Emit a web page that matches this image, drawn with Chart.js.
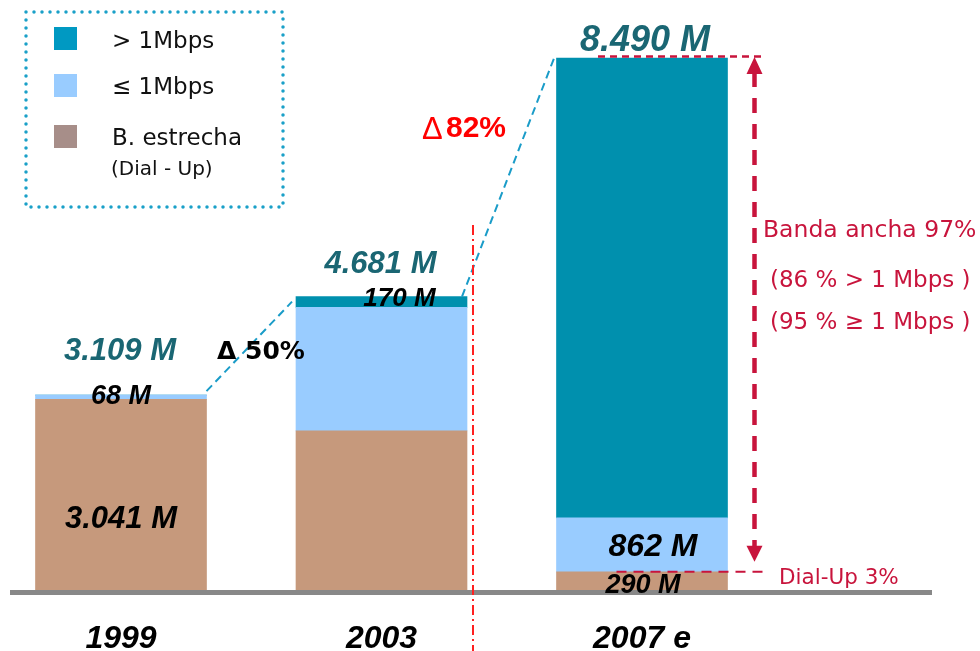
<!DOCTYPE html>
<html>
<head>
<meta charset="utf-8">
<script src="https://cdn.jsdelivr.net/npm/chart.js@4"></script>
<style>
html, body { margin: 0; padding: 0; background: #fff; }
#wrap { width: 980px; height: 651px; }
</style>
</head>
<body>
<div id="wrap"><canvas id="chart" width="980" height="651"></canvas></div>
<script>
// data (thousands of lines)
const years = ['1999', '2003', '2007 e'];
const seriesNames = ['> 1Mbps', '≤ 1Mbps', 'B. estrecha'];
const dialUp = [3041, 2540, 290];
const upTo1Mbps = [68, 1971, 862];
const over1Mbps = [0, 170, 7338];

const totalLabels = ['3.109 M', '4.681 M', '8.490 M'];
const dialUpLabels = ['3.041 M', '', '290 M'];
const upTo1Labels = ['68 M', '', '862 M'];
const over1Labels = ['', '170 M', ''];
const growthLabels = ['Δ 50%', '82%'];
const bandaNotes = ['Banda ancha 97%', '(86 % > 1 Mbps )', '(95 % ≥ 1 Mbps )'];
const dialUpNote = 'Dial-Up 3%';
const dialUpSub = '(Dial - Up)';

const COLORS = {
    over: '#0090AE',
    upTo: '#99CCFF',
    dial: '#C6997C',
    total: '#1A6673',
    crimson: '#C8143C',
    teal: '#1A9CC8'
};
const legendColors = ['#0099C2', '#99CCFF', '#A78E89'];

const BOLD_IT = 'italic bold {s}px "Liberation Sans", Arial, sans-serif';
const PLAIN = '{s}px "DejaVu Sans", sans-serif';
const f = (tpl, s) => tpl.replace('{s}', s);

function text(ctx, str, x, y, font, color, align) {
    ctx.font = font;
    ctx.fillStyle = color;
    ctx.textAlign = align || 'center';
    ctx.textBaseline = 'middle';
    ctx.fillText(str, x, y);
}

function dashed(ctx, pts, color, width, dash) {
    ctx.save();
    ctx.strokeStyle = color;
    ctx.lineWidth = width;
    ctx.setLineDash(dash);
    ctx.beginPath();
    ctx.moveTo(pts[0], pts[1]);
    ctx.lineTo(pts[2], pts[3]);
    ctx.stroke();
    ctx.restore();
}

/**
 * Draws legend box, connectors, labels and notes on top of the bars
 */
const annotations = {
    id: 'annotations',
    afterDatasetsDraw(chart) {
        const ctx = chart.ctx;
        const metas = [0, 1, 2].map(i => chart.getDatasetMeta(i).data);
        const bar = j => {
            const b = metas[2][j];
            return { x: b.x, left: b.x - b.width / 2, right: b.x + b.width / 2, top: b.y };
        };
        const b0 = bar(0), b1 = bar(1), b2 = bar(2);
        const base = chart.scales.y.getPixelForValue(0);

        // baseline
        ctx.fillStyle = '#888888';
        ctx.fillRect(10, base, 922, 5);

        // growth connectors
        dashed(ctx, [b0.right, b0.top - 4, b1.left - 4, b1.top + 5], COLORS.teal, 2, [8, 5]);
        dashed(ctx, [b1.right - 5, b1.top, b2.left - 2, b2.top - 1], COLORS.teal, 2, [8, 5]);

        // red dash-dot separator
        dashed(ctx, [473, 225, 473, 651], '#FF2020', 2, [10, 4, 2, 4]);

        // totals
        const totalDy = [-44, -32, -17];
        const totalSize = [31, 31, 36];
        [b0, b1, b2].forEach((b, j) => {
            text(ctx, totalLabels[j], b.x + (j === 2 ? 3 : -1), b.top + totalDy[j], f(BOLD_IT, totalSize[j]), COLORS.total);
        });

        // segment labels
        const seg = (ds, j) => {
            const el = metas[ds][j];
            return { x: el.x, top: el.y, mid: (el.y + el.base) / 2 };
        };
        text(ctx, dialUpLabels[0], seg(0, 0).x, seg(0, 0).mid + 25, f(BOLD_IT, 31), '#000');
        text(ctx, upTo1Labels[0], seg(1, 0).x, seg(1, 0).top + 1, f(BOLD_IT, 27), '#000');
        text(ctx, over1Labels[1], seg(2, 1).x + 18, seg(2, 1).mid - 3, f(BOLD_IT, 26), '#000');
        text(ctx, upTo1Labels[2], seg(1, 2).x + 11, seg(1, 2).mid + 2, f(BOLD_IT, 32), '#000');
        text(ctx, dialUpLabels[2], seg(0, 2).x + 1, seg(0, 2).mid + 5, f(BOLD_IT, 27), '#000');

        // growth labels
        text(ctx, growthLabels[0], 217, 352, 'bold 25px "DejaVu Sans", sans-serif', '#000', 'left');
        text(ctx, 'Δ', 422, 130, '31px "Liberation Sans", sans-serif', '#FF0000', 'left');
        text(ctx, growthLabels[1], 446, 129, 'bold 30px "Liberation Sans", sans-serif', '#FF0000', 'left');

        // 2007 share annotations
        const dialTop = metas[1][2].base;
        const ax = b2.right + 27;
        dashed(ctx, [598, b2.top - 1.5, ax + 8, b2.top - 1.5], COLORS.crimson, 2.5, [7, 5]);
        dashed(ctx, [b2.left + 60, dialTop, ax + 10, dialTop], COLORS.crimson, 2, [10, 7]);
        dashed(ctx, [ax, b2.top + 14, ax, dialTop - 24], COLORS.crimson, 4.5, [15, 11]);
        ctx.fillStyle = COLORS.crimson;
        ctx.beginPath();
        ctx.moveTo(ax, b2.top - 1);
        ctx.lineTo(ax - 8, b2.top + 16);
        ctx.lineTo(ax + 8, b2.top + 16);
        ctx.closePath();
        ctx.fill();
        ctx.beginPath();
        ctx.moveTo(ax, dialTop - 10);
        ctx.lineTo(ax - 8, dialTop - 26);
        ctx.lineTo(ax + 8, dialTop - 26);
        ctx.closePath();
        ctx.fill();

        text(ctx, bandaNotes[0], 763, 231, f(PLAIN, 23.5), COLORS.crimson, 'left');
        text(ctx, bandaNotes[1], 770, 281, f(PLAIN, 23), COLORS.crimson, 'left');
        text(ctx, bandaNotes[2], 770, 323, f(PLAIN, 23), COLORS.crimson, 'left');
        text(ctx, dialUpNote, 779, 578, f(PLAIN, 21.5), COLORS.crimson, 'left');

        // legend
        ctx.save();
        ctx.strokeStyle = '#1AA0C8';
        ctx.lineWidth = 3.5;
        ctx.lineCap = 'round';
        ctx.setLineDash([0, 8]);
        ctx.strokeRect(26, 12, 257, 195);
        ctx.restore();
        const legendY = [38.5, 85.5, 136.5];
        const textY = [42, 88, 139];
        seriesNames.forEach((name, i) => {
            ctx.fillStyle = legendColors[i];
            ctx.fillRect(54, legendY[i] - 11.5, 23, 23);
            text(ctx, name, 112, textY[i], f(PLAIN, 23), '#111', 'left');
        });
        text(ctx, dialUpSub, 111, 170, f(PLAIN, 20), '#111', 'left');
    }
};

new Chart(document.getElementById('chart'), {
    type: 'bar',
    data: {
        labels: years,
        datasets: [
            { label: seriesNames[2], data: dialUp, backgroundColor: COLORS.dial },
            { label: seriesNames[1], data: upTo1Mbps, backgroundColor: COLORS.upTo },
            { label: seriesNames[0], data: over1Mbps, backgroundColor: COLORS.over }
        ]
    },
    options: {
        responsive: false,
        animation: false,
        devicePixelRatio: 1,
        layout: { padding: { left: 121, right: 338, top: 58, bottom: 0 } },
        datasets: { bar: { barThickness: 171, borderWidth: 0, clip: false } },
        plugins: {
            legend: { display: false },
            tooltip: { enabled: false },
            title: { display: false }
        },
        scales: {
            x: {
                stacked: true,
                offset: false,
                grid: { display: false, drawTicks: false },
                border: { display: false },
                ticks: {
                    color: '#000',
                    padding: 30,
                    autoSkip: false,
                    maxRotation: 0,
                    font: { family: '"Liberation Sans", Arial, sans-serif', size: 32, weight: 'bold', style: 'italic', lineHeight: 1.2 }
                },
                afterFit(scale) {
                    scale.height = 61;
                }
            },
            y: {
                stacked: true,
                display: false,
                min: 0,
                max: 8490
            }
        }
    },
    plugins: [annotations]
});
</script>
</body>
</html>
